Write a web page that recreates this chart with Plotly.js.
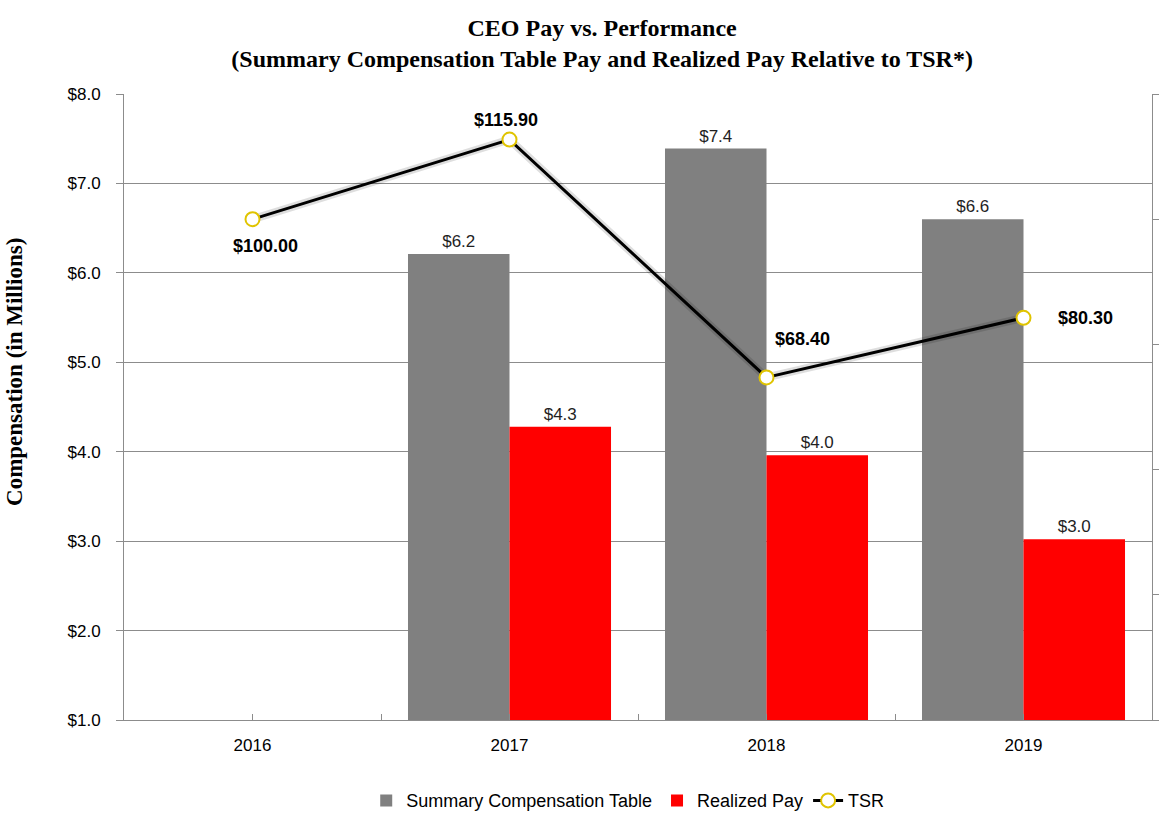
<!DOCTYPE html>
<html>
<head>
<meta charset="utf-8">
<script src="https://cdn.plot.ly/plotly-3.0.1.min.js"></script>
<style>
  html, body { margin: 0; padding: 0; background: #fff; }
  #chart { width: 1176px; height: 828px; }
</style>
</head>
<body>
<div id="chart"></div>
<script>
// ---- data ----
var years = ['2016', '2017', '2018', '2019'];
var summaryComp = [null, 6.21, 7.39, 6.60];
var realizedPay = [null, 4.28, 3.96, 3.02];
var tsr = [100.00, 115.90, 68.40, 80.30];
var tsrLabels = ['$100.00', '$115.90', '$68.40', '$80.30'];
var tsrLabelShiftX = [13, -4, 36, 62];
var tsrLabelShiftY = [-27, 20, 38, 0];

var SANS = 'Liberation Sans, Arial, sans-serif';
var SERIF = 'Liberation Serif, Times New Roman, serif';
var GRID = '#8c8c8c';

var traces = [
  {
    type: 'bar', name: 'Summary Compensation Table',
    x: years, y: summaryComp,
    marker: { color: '#808080' },
    texttemplate: '$%{y:.1f}', textposition: 'outside',
    textfont: { family: SANS, size: 17, color: '#1f1f1f' },
    cliponaxis: false, hoverinfo: 'skip'
  },
  {
    type: 'bar', name: 'Realized Pay',
    x: years, y: realizedPay,
    marker: { color: '#ff0000' },
    texttemplate: '$%{y:.1f}', textposition: 'outside',
    textfont: { family: SANS, size: 17, color: '#1f1f1f' },
    cliponaxis: false, hoverinfo: 'skip'
  },
  {
    // soft shadow under the TSR line
    type: 'scatter', name: 'TSR shadow', mode: 'lines',
    x: years, y: tsr, yaxis: 'y2',
    line: { color: 'rgba(0,0,0,0.13)', width: 8 },
    showlegend: false, hoverinfo: 'skip', cliponaxis: false
  },
  {
    type: 'scatter', name: 'TSR', mode: 'lines+markers',
    x: years, y: tsr, yaxis: 'y2',
    line: { color: '#000000', width: 3 },
    marker: { symbol: 'circle', size: 14, color: '#ffffff',
              line: { color: '#e0c400', width: 2 } },
    cliponaxis: false, hoverinfo: 'skip'
  },
  {
    // invisible trace that carries the mid-category tick marks
    type: 'scatter', name: 'ticks', mode: 'none',
    x: years, y: summaryComp, xaxis: 'x2', yaxis: 'y',
    showlegend: false, hoverinfo: 'skip'
  }
];

// category axes place annotations by category index
var annotations = tsr.map(function (v, i) {
  return {
    xref: 'x', yref: 'y2', x: i, y: v,
    text: '<b>' + tsrLabels[i] + '</b>', showarrow: false,
    xanchor: 'center', yanchor: 'middle',
    xshift: tsrLabelShiftX[i], yshift: tsrLabelShiftY[i],
    font: { family: SANS, size: 18, color: '#000' }
  };
});
annotations.push({
  xref: 'paper', yref: 'paper', x: -0.106, y: 0.556,
  xanchor: 'center', yanchor: 'middle',
  text: '<b>Compensation (in Millions)</b>', textangle: -90, showarrow: false,
  font: { family: SERIF, size: 23, color: '#000' }
});

var layout = {
  width: 1176, height: 828,
  paper_bgcolor: '#ffffff', plot_bgcolor: '#ffffff',
  margin: { l: 124, r: 24, t: 94, b: 108 },
  title: {
    text: '<b>CEO Pay vs. Performance<br>(Summary Compensation Table Pay and Realized Pay Relative to TSR*)</b>',
    font: { family: SERIF, size: 24, color: '#000' },
    xref: 'container', x: 0.512, xanchor: 'center',
    yref: 'container', y: 0.957, yanchor: 'top'
  },
  barmode: 'group', bargap: 0.21, bargroupgap: 0,
  showlegend: true,
  legend: {
    orientation: 'h', xref: 'paper', x: 0.49, xanchor: 'center',
    yref: 'container', y: 0.033, yanchor: 'middle',
    font: { family: SANS, size: 18, color: '#000' },
    traceorder: 'normal'
  },
  xaxis: {
    type: 'category', categoryarray: years, range: [-0.5, 3.5],
    tickson: 'boundaries', ticks: 'inside', ticklen: 6, tickcolor: GRID,
    showline: true, linecolor: GRID, linewidth: 1,
    showgrid: false, zeroline: false, ticklabelstandoff: 10,
    tickfont: { family: SANS, size: 17, color: '#000' }
  },
  xaxis2: {
    type: 'category', categoryarray: years, range: [-0.5, 3.5],
    overlaying: 'x', anchor: 'y', side: 'bottom',
    ticks: 'inside', ticklen: 6, tickcolor: GRID,
    showticklabels: false, showline: false, showgrid: false, zeroline: false
  },
  yaxis: {
    range: [1, 8], dtick: 1, tick0: 0,
    tickprefix: '$', tickformat: '.1f',
    ticks: 'outside', ticklen: 7, tickcolor: GRID,
    showline: true, linecolor: GRID, linewidth: 1,
    showgrid: true, gridcolor: GRID, gridwidth: 1, zeroline: false,
    ticklabelstandoff: 12,
    tickfont: { family: SANS, size: 17, color: '#000' }
  },
  yaxis2: {
    overlaying: 'y', side: 'right', anchor: 'x',
    range: [0, 125], dtick: 25,
    ticks: 'outside', ticklen: 6, tickcolor: GRID,
    showticklabels: false, showline: true, linecolor: GRID, linewidth: 1,
    showgrid: false, zeroline: false
  },
  annotations: annotations
};

Plotly.newPlot('chart', traces, layout, { displayModeBar: false, staticPlot: true });
</script>
</body>
</html>
